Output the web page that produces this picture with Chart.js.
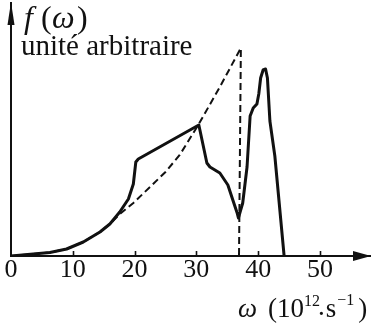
<!DOCTYPE html>
<html>
<head>
<meta charset="utf-8">
<script src="https://cdn.jsdelivr.net/npm/chart.js@4/dist/chart.umd.min.js"></script>
<style>
  html, body { margin: 0; padding: 0; background: #fff; }
  #wrap { width: 371px; height: 329px; position: relative; }
</style>
</head>
<body>
<div id="wrap"><canvas id="c" width="371" height="329"></canvas></div>
<script>
// ---- data (f in arbitrary units) ----
const omegaTicks = [0, 10, 20, 30, 40, 50];
const debyeOmega = [0, 3.6, 6.3, 9, 11.7, 14.4, 16, 17.6, 19.8, 22.5, 25, 27.3, 30.3, 33.8, 37.2, 36.9];
const debyeF     = [0, 2, 3.5, 7, 14, 24, 32, 42, 53, 69, 84, 101, 131, 169, 208, 0];
const realOmega  = [0, 3.6, 6.3, 9, 11.7, 14.4, 16, 17.6, 19, 19.8, 20.2, 20.6, 30.4, 31.7, 32.2, 33.8, 35.1, 35.9, 36.6, 36.8, 37.5, 38.2, 38.7, 39.2, 39.8, 40.1, 40.4, 40.8, 41.2, 41.5, 41.9, 42.7, 44.2];
const realF      = [0, 2, 3.5, 7, 14, 24, 32, 44, 57, 72, 94, 97, 131, 93, 89, 83, 71, 56, 43, 38, 53, 89, 140, 148, 152, 162, 178, 186, 187, 178, 135, 100, 0];
const yLabel1 = 'unité arbitraire';

const toXY = (xs, ys) => xs.map((x, i) => ({ x: x, y: ys[i] }));
const SERIF = '"Liberation Serif", "Times New Roman", serif';
const INK = '#111';

const decor = {
  id: 'decor',
  afterDraw(chart) {
    const ctx = chart.ctx;
    const xs = chart.scales.x, ca = chart.chartArea;
    ctx.save();
    ctx.fillStyle = INK; ctx.strokeStyle = INK;
    // tick marks above the axis
    ctx.lineWidth = 1.6;
    omegaTicks.forEach(v => {
      if (v === 0) return;
      const px = Math.round(xs.getPixelForValue(v)) + 0.5;
      ctx.beginPath(); ctx.moveTo(px, ca.bottom - 5); ctx.lineTo(px, ca.bottom); ctx.stroke();
    });
    // x arrow
    ctx.beginPath();
    ctx.moveTo(ca.right + 1, ca.bottom);
    ctx.lineTo(ca.right - 17, ca.bottom - 5);
    ctx.lineTo(ca.right - 17, ca.bottom + 5);
    ctx.closePath(); ctx.fill();
    // y arrow
    ctx.beginPath();
    ctx.moveTo(ca.left, ca.top - 1);
    ctx.lineTo(ca.left - 3.5, ca.top + 22);
    ctx.lineTo(ca.left + 3.5, ca.top + 22);
    ctx.closePath(); ctx.fill();
    // y axis label
    ctx.textBaseline = 'alphabetic'; ctx.textAlign = 'left';
    ctx.font = 'italic 32px ' + SERIF; ctx.fillText('f', 24, 28);
    ctx.font = '32px ' + SERIF; ctx.fillText('(', 41, 28);
    ctx.font = 'italic 32px ' + SERIF; ctx.fillText('ω', 52, 28);
    ctx.font = '32px ' + SERIF; ctx.fillText(')', 77, 28);
    ctx.font = '29px ' + SERIF; ctx.fillText(yLabel1, 21, 55);
    // x axis title
    const by = 317;
    ctx.font = 'italic 27px ' + SERIF; ctx.fillText('ω', 238, by);
    ctx.font = '27px ' + SERIF; ctx.fillText('(10', 268, by);
    let x = 268 + ctx.measureText('(10').width;
    ctx.font = '16px ' + SERIF; ctx.fillText('12', x, by - 11); x += ctx.measureText('12').width - 2;
    ctx.font = '27px ' + SERIF; ctx.fillText('.', x, by - 2); x += ctx.measureText('.').width + 1;
    ctx.fillText('s', x, by); x += ctx.measureText('s').width + 1;
    ctx.font = '16px ' + SERIF; ctx.fillText('−1', x, by - 12); x += ctx.measureText('−1').width + 4;
    ctx.font = '27px ' + SERIF; ctx.fillText(')', x, by);
    ctx.restore();
  }
};

new Chart(document.getElementById('c'), {
  type: 'scatter',
  data: {
    datasets: [
      { label: 'Debye', data: toXY(debyeOmega, debyeF), showLine: true, borderColor: INK, borderWidth: 2,
        borderDash: [7, 4], pointRadius: 0, tension: 0, fill: false },
      { label: 'réel', data: toXY(realOmega, realF), showLine: true, borderColor: INK, borderWidth: 3,
        pointRadius: 0, tension: 0, fill: false, borderJoinStyle: 'round' }
    ]
  },
  options: {
    responsive: false,
    animation: false,
    layout: { autoPadding: false, padding: { left: 11, right: 1, top: 3, bottom: 33 } },
    plugins: { legend: { display: false }, tooltip: { enabled: false }, title: { display: false } },
    scales: {
      x: {
        type: 'linear', min: 0, max: 58.1,
        afterBuildTicks: s => { s.ticks = omegaTicks.map(v => ({ value: v })); },
        afterFit: s => { s.height = 40; },
        grid: { display: false, drawTicks: false },
        border: { display: true, color: INK, width: 2 },
        ticks: { color: INK, padding: 1, maxRotation: 0, autoSkip: false,
                 font: { family: SERIF, size: 26, lineHeight: 1.0 } }
      },
      y: {
        type: 'linear', min: 0, max: 253,
        afterFit: s => { s.width = 0; },
        grid: { display: false, drawTicks: false },
        border: { display: true, color: INK, width: 2 },
        ticks: { display: false }
      }
    }
  },
  plugins: [decor]
});
</script>
</body>
</html>
